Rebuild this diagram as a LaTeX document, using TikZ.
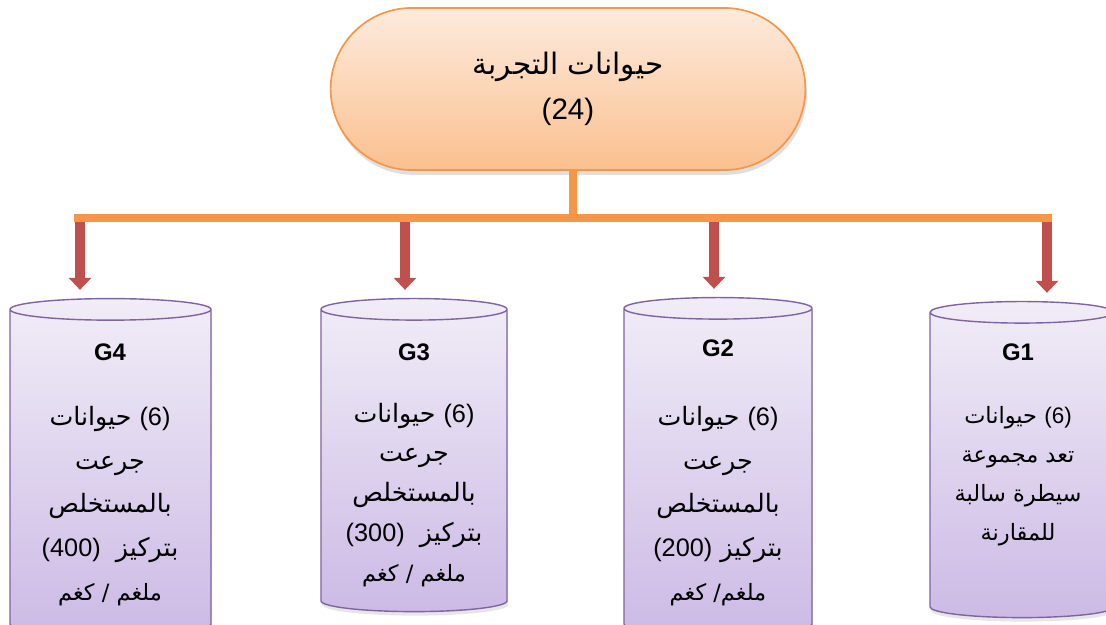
\documentclass[tikz,border=0pt]{standalone}
\usepackage{fontspec}
\setmainfont{Liberation Sans}
\newfontfamily\arabicfont[Script=Arabic]{DejaVu Sans}
\TeXXeTstate=1
\usetikzlibrary{shapes.geometric,shapes.misc,arrows.meta,shadows}
\definecolor{barorange}{HTML}{F79646}
\definecolor{peachtop}{HTML}{FDEBDD}
\definecolor{peachbot}{HTML}{FAC08F}
\definecolor{arrred}{HTML}{C0504D}
\definecolor{lilacline}{HTML}{8064A2}
\definecolor{lilactop}{HTML}{F1EDF7}
\definecolor{lilacbot}{HTML}{CCBAE5}
\newcommand{\lat}{\rmfamily}

\begin{document}
\begin{tikzpicture}[x=0.025cm,y=-0.025cm]
    % Stili
    \tikzset{
        topbox/.style={rounded rectangle, draw=barorange, line width=1.2pt, top color=peachtop, bottom color=peachbot, minimum width=12.1cm, minimum height=4.05cm, align=center, font=\arabicfont\fontsize{21}{32}\selectfont, drop shadow={shadow xshift=0.4mm, shadow yshift=-1.2mm, opacity=0.25}},
        group/.style={cylinder, shape border rotate=90, aspect=2.3, draw=lilacline, line width=1pt, top color=lilactop, bottom color=lilacbot, drop shadow={shadow xshift=0.3mm, shadow yshift=-1mm, opacity=0.2}},
        glabel/.style={inner sep=0pt, font=\bfseries\fontsize{17}{20}\selectfont},
        gtext/.style={inner sep=0pt, align=center, font=\arabicfont\fontsize{18}{31}\selectfont},
        bar/.style={draw=barorange, line width=0.2cm},
        arrow/.style={-{Triangle[width=0.55cm,length=0.3cm]}, draw=arrred, line width=0.25cm, shorten >=0.2cm}
    }
    \useasboundingbox (0,0) rectangle (1106,625);

    % Nodo principale
    \node[topbox] (top) at (568,89) {\beginR حيوانات التجربة\endR\\ {\lat(24)}};

    % Gruppi
    \node[group, minimum width=5.025cm, minimum height=8.4cm] (g4) at (110.5,474) {};
    \node[group, minimum width=4.65cm, minimum height=7.825cm] (g3) at (414,462.5) {};
    \node[group, minimum width=4.7cm, minimum height=8.425cm] (g2) at (718,473.5) {};
    \node[group, minimum width=4.6cm, minimum height=7.9cm] (g1) at (1022,467) {};

    \node[glabel] (l4) at (110,352) {G4};
    \node[glabel] (l3) at (414,352) {G3};
    \node[glabel] (l2) at (718,348) {G2};
    \node[glabel] (l1) at (1018,352) {G1};

    \node[gtext] (t4) at (110,506) {\beginR\beginL{\lat(6)}\endL{} حيوانات\endR\\ \beginR جرعت\endR\\ \beginR بالمستخلص\endR\\ \beginR بتركيز\hspace{0.6em}\beginL{\lat(400)}\endL\endR\\ {\fontsize{16}{31}\selectfont\beginR ملغم / كغم\endR}};
    \node[gtext, font=\arabicfont\fontsize{18}{28.4}\selectfont] (t3) at (414,495) {\beginR\beginL{\lat(6)}\endL{} حيوانات\endR\\ \beginR جرعت\endR\\ \beginR بالمستخلص\endR\\ \beginR بتركيز\hspace{0.6em}\beginL{\lat(300)}\endL\endR\\ {\fontsize{16}{28}\selectfont\beginR ملغم / كغم\endR}};
    \node[gtext] (t2) at (718,506) {\beginR\beginL{\lat(6)}\endL{} حيوانات\endR\\ \beginR جرعت\endR\\ \beginR بالمستخلص\endR\\ \beginR بتركيز \beginL{\lat(200)}\endL\endR\\ {\fontsize{16}{31}\selectfont\beginR ملغم/ كغم\endR}};
    \node[gtext, font=\arabicfont\fontsize{16}{27.7}\selectfont] (t1) at (1018,476) {\beginR\beginL{\lat(6)}\endL{} حيوانات\endR\\ \beginR تعد مجموعة\endR\\ \beginR سيطرة سالبة\endR\\ \beginR للمقارنة\endR};

    % Collegamenti
    \coordinate (hub) at (573,218);
    \coordinate (bl) at (74,218);
    \coordinate (br) at (1052,218);
    \draw[bar] (top.south -| hub) -- (hub);
    \draw[bar] (bl) -- (br);

    \coordinate (a4) at (80,222);
    \coordinate (a3) at (405,222);
    \coordinate (a2) at (714,222);
    \coordinate (a1) at (1047,222);
    \draw[arrow] (a4) -- (a4 |- g4.north);
    \draw[arrow] (a3) -- (a3 |- g3.north);
    \draw[arrow] (a2) -- (a2 |- g2.north);
    \draw[arrow] (a1) -- (a1 |- g1.north);
\end{tikzpicture}
\end{document}
